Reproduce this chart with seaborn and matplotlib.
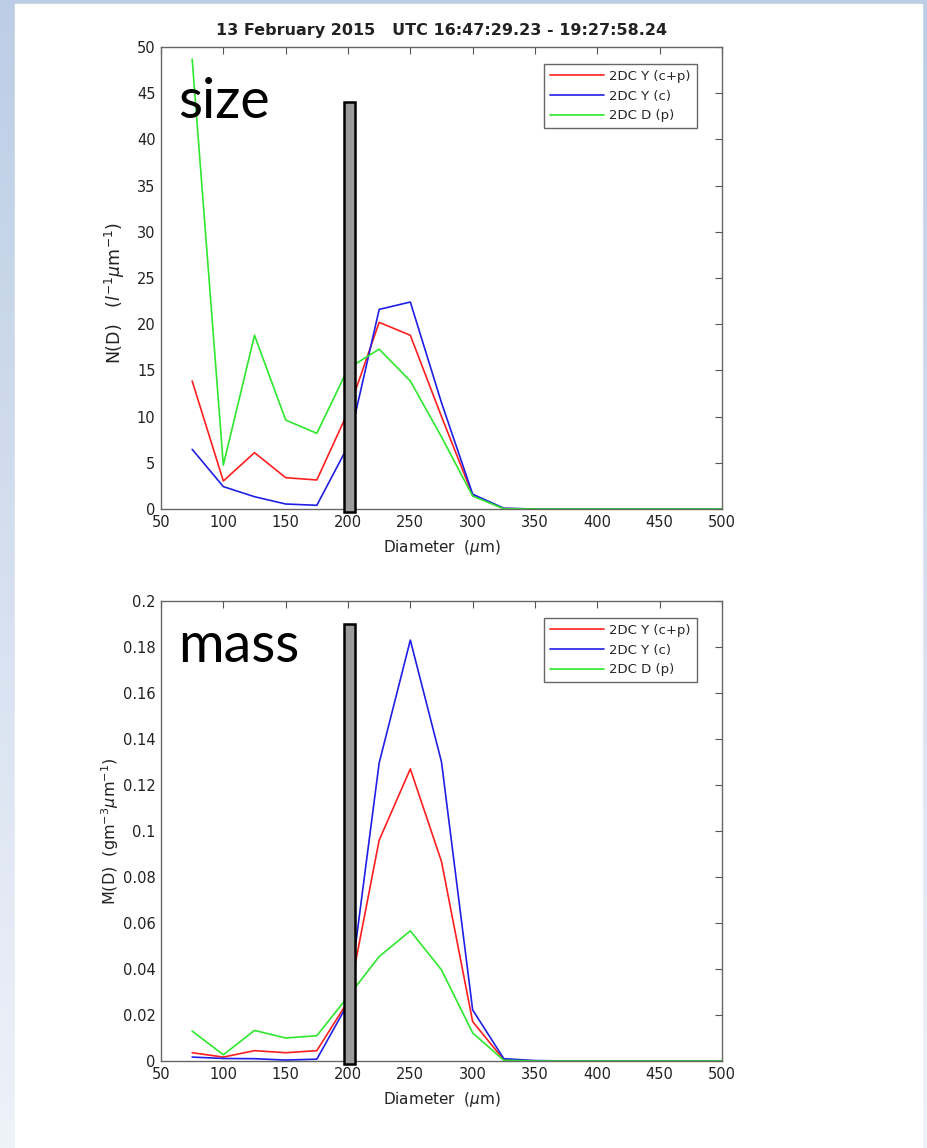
import numpy as np
import pandas as pd
import matplotlib
matplotlib.use("Agg")
import matplotlib.pyplot as plt
import seaborn as sns
from matplotlib.patches import Rectangle
from matplotlib.colors import LinearSegmentedColormap
from matplotlib.ticker import FuncFormatter

# bin centres (um)
diameter = [75, 100, 125, 150, 175, 200, 225, 250, 275, 300, 325, 350,
            375, 400, 425, 450, 475, 500]

# number distribution N(D)
nd_cp = [13.85, 3.03, 6.1, 3.39, 3.14, 10.5, 20.2, 18.8, 10.0, 1.5, 0.05, 0,
         0, 0, 0, 0, 0, 0]
nd_c = [6.46, 2.42, 1.33, 0.54, 0.4, 6.8, 21.6, 22.4, 11.5, 1.6, 0.08, 0,
        0, 0, 0, 0, 0, 0]
nd_p = [48.7, 4.76, 18.8, 9.63, 8.19, 15.2, 17.3, 13.85, 7.8, 1.4, 0.03, 0,
        0, 0, 0, 0, 0, 0]

# mass distribution M(D)
md_cp = [0.0036, 0.0017, 0.0045, 0.0036, 0.0045, 0.026, 0.096, 0.127, 0.0867,
         0.0171, 0.0005, 0, 0, 0, 0, 0, 0, 0]
md_c = [0.0017, 0.0011, 0.001, 0.0004, 0.0008, 0.025, 0.1296, 0.183, 0.130,
        0.0222, 0.001, 0.0002, 0, 0, 0, 0, 0, 0]
md_p = [0.013, 0.0027, 0.0133, 0.010, 0.011, 0.028, 0.0454, 0.0566, 0.0396,
        0.0122, 0.0003, 0, 0, 0, 0, 0, 0, 0]

probes = ["2DC Y (c+p)", "2DC Y (c)", "2DC D (p)"]
colors = ["#ff1f1f", "#1f1fe6", "#2ee82e"]

# grey cut-off bar drawn over each panel
cut_d = 201.2
cut_w = 8.8
cut_span_size = (-0.35, 44.0)
cut_span_mass = (-0.0015, 0.19)


def to_long(series):
    frames = []
    for name, vals in zip(probes, series):
        frames.append(pd.DataFrame({"Diameter": diameter, "value": vals, "probe": name}))
    return pd.concat(frames, ignore_index=True)


sns.set_style("white")
plt.rcParams["font.family"] = ["DejaVu Sans"]
plt.rcParams["mathtext.fontset"] = "dejavusans"

W, H = 927, 1148
fig = plt.figure(figsize=(W / 100, H / 100), dpi=100)

# slide background: light blue gradient with white panel
bg = fig.add_axes([0, 0, 1, 1], zorder=-10)
cmap = LinearSegmentedColormap.from_list("slide", ["#bccde5", "#eef2f9"])
bg.imshow(np.linspace(0, 1, 256).reshape(-1, 1), extent=[0, 1, 0, 1],
          aspect="auto", cmap=cmap, origin="upper")
bg.add_patch(Rectangle((15 / W, 0), 907 / W, 1 - 4 / H, color="white"))
bg.set_xlim(0, 1)
bg.set_ylim(0, 1)
bg.axis("off")

ax1 = fig.add_axes([161 / W, 1 - 509 / H, 561 / W, 462 / H])
ax2 = fig.add_axes([161 / W, 1 - 1061 / H, 561 / W, 460 / H])

panels = [
    (ax1, [nd_cp, nd_c, nd_p], (0, 50), np.arange(0, 51, 5), cut_span_size,
     r"N(D)   ($l^{-1}\mu$m$^{-1}$)", 12.5, (-0.06, 0.468), "size", 0.846),
    (ax2, [md_cp, md_c, md_p], (0, 0.2), np.arange(0, 0.201, 0.02), cut_span_mass,
     r"M(D)  (gm$^{-3}\mu$m$^{-1}$)", 11.5, (-0.071, 0.5), "mass", 0.867),
]

for ax, series, ylim, yticks, span, ylabel, ylsize, ylpos, tag, tag_y in panels:
    df = to_long(series)
    sns.lineplot(data=df, x="Diameter", y="value", hue="probe",
                 palette=dict(zip(probes, colors)), estimator=None,
                 linewidth=1.2, ax=ax, legend=False)
    ax.set_facecolor("white")
    ax.set_xlim(50, 500)
    ax.set_ylim(*ylim)
    ax.set_xticks(np.arange(50, 501, 50))
    ax.set_yticks(yticks)
    ax.yaxis.set_major_formatter(FuncFormatter(lambda v, p: "%g" % round(v, 4)))
    ax.tick_params(direction="in", top=True, right=True, length=5, width=0.8,
                   color="#555555", labelsize=10.5, labelcolor="#222222", pad=4)
    for sp in ax.spines.values():
        sp.set_color("#666666")
        sp.set_linewidth(1.0)
    ax.set_xlabel(r"Diameter  ($\mu$m)", fontsize=11, color="#222222", labelpad=6)
    ax.set_ylabel(ylabel, fontsize=ylsize, color="#222222")
    ax.yaxis.set_label_coords(*ylpos)

    # cut-off marker
    ax.bar([cut_d], [span[1] - span[0]], bottom=span[0], width=cut_w,
           color="#9b9b9b", edgecolor="black", linewidth=1.8, zorder=5,
           clip_on=False)

    ax.text(0.03, tag_y, tag, transform=ax.transAxes, fontsize=40,
            family=["Lato", "DejaVu Sans"], va="baseline", ha="left",
            color="black", zorder=6)

    handles = [plt.Line2D([], [], color=c, lw=1.2) for c in colors]
    leg = ax.legend(handles, probes, loc="upper right",
                    bbox_to_anchor=(0.955, 0.963), borderaxespad=0,
                    fancybox=False, framealpha=1, edgecolor="#666666",
                    handlelength=4.1, handletextpad=0.4, labelspacing=0.5,
                    borderpad=0.45, fontsize=9.5)
    leg.get_frame().set_linewidth(1.0)

ax1.set_title("13 February 2015   UTC 16:47:29.23 - 19:27:58.24",
              fontsize=11.5, fontweight="bold", color="#222222", pad=9)

fig.savefig("out.png", dpi=100)
